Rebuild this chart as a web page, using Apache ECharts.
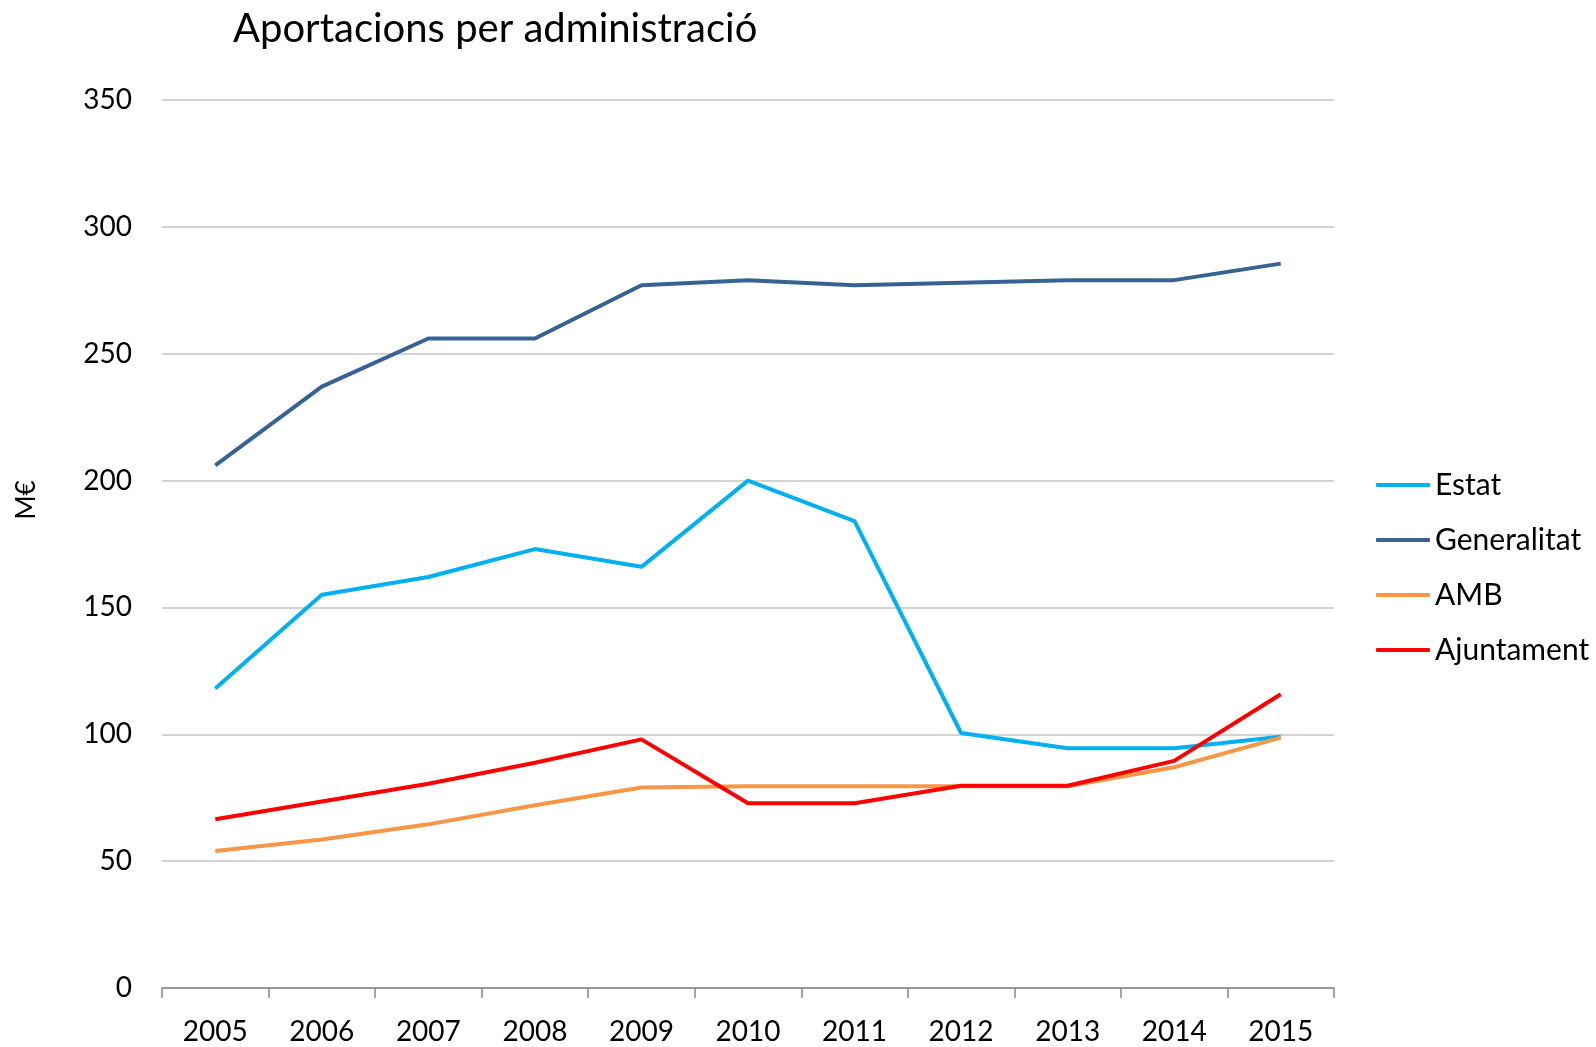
<!doctype html>
<html><head><meta charset="utf-8" />
<style>
  html,body,#app{margin:0;padding:0;width:1596px;height:1047px;background:#ffffff}
</style>
<script src="https://cdn.jsdelivr.net/npm/echarts@6/dist/echarts.min.js"></script>
</head><body><div id="app"></div>
<script>
  // values (M€)
  const years = ['2005','2006','2007','2008','2009','2010','2011','2012','2013','2014','2015'];
  const estat = [118, 155, 162, 173, 166, 200, 184, 100.5, 94.5, 94.5, 99];
  const generalitat = [206, 237, 256, 256, 277, 279, 277, 278, 279, 279, 285.5];
  const amb = [54, 58.5, 64.5, 72, 79, 79.5, 79.5, 79.5, 79.5, 87, 98.7];
  const ajuntament = [66.5, 73.5, 80.5, 88.8, 98, 72.8, 72.8, 79.7, 79.7, 89.5, 115.8];

  const font = 'Lato, "Noto Sans", sans-serif';
  const chart = echarts.init(document.getElementById('app'));
  const mk = (name, data, color) => ({
    name, type: 'line', data, symbol: 'none', smooth: false,
    lineStyle: { color, width: 4 }, itemStyle: { color }
  });
  chart.setOption({
    backgroundColor: '#ffffff',
    animation: false,
    textStyle: { fontFamily: font },
    title: { text: 'Aportacions per administració', left: 228, top: 4,
      textStyle: { fontFamily: font, fontSize: 40, fontWeight: 'normal', color: '#000' } },
    grid: { left: 162, right: 262, top: 100, bottom: 59 },
    legend: { orient: 'vertical', left: 1371, top: 465, itemWidth: 54, itemHeight: 4, itemGap: 25,
      icon: 'roundRect',
      data: ['Estat', 'Generalitat', 'AMB', 'Ajuntament'],
      textStyle: { fontFamily: font, fontSize: 30, color: '#000' } },
    xAxis: { type: 'category', data: years, boundaryGap: true,
      axisLine: { lineStyle: { color: '#868686', width: 1.5 } },
      axisTick: { show: true, length: 10, lineStyle: { color: '#868686', width: 1.5 } },
      axisLabel: { color: '#000', fontSize: 28, margin: 30, fontFamily: font } },
    yAxis: { type: 'value', min: 0, max: 350, interval: 50,
      name: 'M€', nameLocation: 'middle', nameGap: 122, nameRotate: 90,
      nameTextStyle: { color: '#000', fontSize: 26, fontFamily: font, padding: [0, 0, 0, 88] },
      axisLine: { show: false }, axisTick: { show: false },
      axisLabel: { color: '#000', fontSize: 28, margin: 30, fontFamily: font },
      splitLine: { lineStyle: { color: '#c4c4c4', width: 1.5 } } },
    series: [
      mk('Estat', estat, '#00b0f0'),
      mk('Generalitat', generalitat, '#386294'),
      mk('AMB', amb, '#f79646'),
      mk('Ajuntament', ajuntament, '#ff0000')
    ]
  });
</script></body></html>
